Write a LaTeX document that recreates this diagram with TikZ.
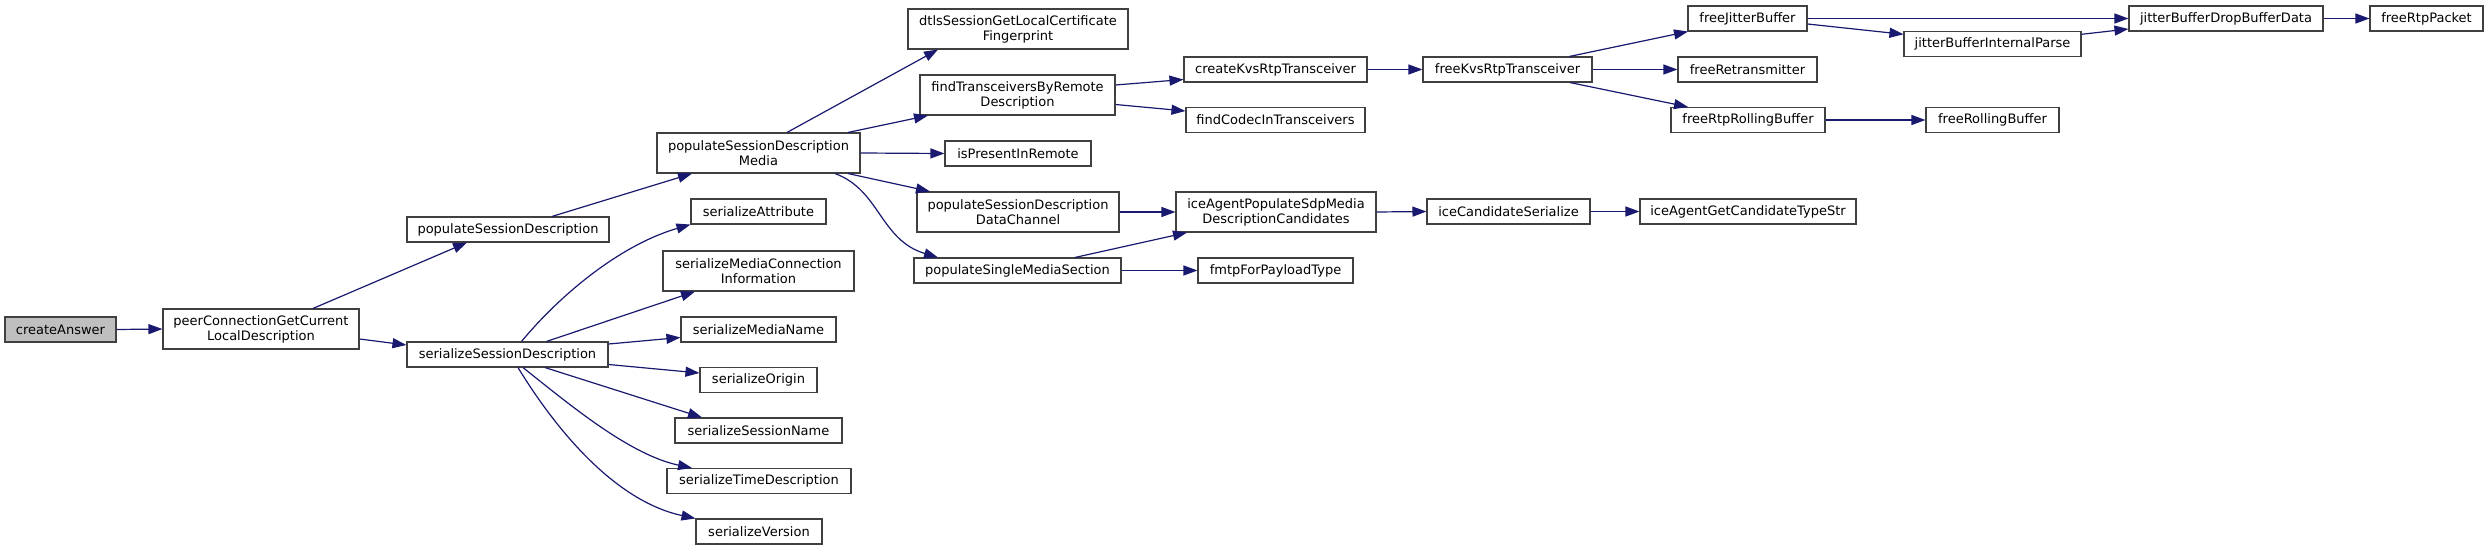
\documentclass[tikz,border=0pt]{standalone}
\usepackage{fontspec}
\setmainfont{DejaVu Sans}
\usetikzlibrary{arrows.meta,calc}
\definecolor{navy}{HTML}{191970}
\definecolor{bordergray}{HTML}{404040}
\definecolor{rootgray}{HTML}{BFBFBF}
\begin{document}
\begin{tikzpicture}[x=1pt,y=-1pt,
  nbox/.style={draw=bordergray, fill=white, line width=1.1pt, inner sep=0pt, align=center,
    minimum height=25pt, font=\fontsize{13}{15}\selectfont},
  tall/.style={minimum height=40pt},
  conn/.style={draw=navy, line width=1.2pt, -{Triangle[length=14pt,width=10pt]}}]
\fill[white] (0,0) rectangle (2488,551);
\useasboundingbox (0,0) rectangle (2488,551);

\node[nbox, fill=rootgray, minimum width=111pt] (ca) at (60.5,329.5) {createAnswer};
\node[nbox, tall, minimum width=196pt] (pe) at (261,329) {peerConnectionGetCurrent\\LocalDescription};
\node[nbox, minimum width=202pt] (psd) at (508,229.5) {populateSessionDescription};
\node[nbox, minimum width=201pt] (ssd) at (507.5,354.5) {serializeSessionDescription};
\node[nbox, tall, minimum width=203pt] (psdm) at (758.5,153) {populateSessionDescription\\Media};
\node[nbox, minimum width=135pt] (sa) at (758.5,211.5) {serializeAttribute};
\node[nbox, tall, minimum width=191pt] (smci) at (758.5,271) {serializeMediaConnection\\Information};
\node[nbox, minimum width=155pt] (smn) at (758.5,329.5) {serializeMediaName};
\node[nbox, minimum width=117pt] (so) at (758.5,380) {serializeOrigin};
\node[nbox, minimum width=167pt] (ssn) at (758.5,430.5) {serializeSessionName};
\node[nbox, minimum width=184pt] (std) at (759,481) {serializeTimeDescription};
\node[nbox, minimum width=126pt] (sv) at (759,531.5) {serializeVersion};
\node[nbox, tall, minimum width=220pt] (dtls) at (1018,29) {dtlsSessionGetLocalCertificate\\Fingerprint};
\node[nbox, tall, minimum width=195pt] (ftr) at (1017.5,95) {findTransceiversByRemote\\Description};
\node[nbox, minimum width=146pt] (ipr) at (1018,153.5) {isPresentInRemote};
\node[nbox, tall, minimum width=202pt] (pdc) at (1018,212) {populateSessionDescription\\DataChannel};
\node[nbox, minimum width=207pt] (psms) at (1017.5,270.5) {populateSingleMediaSection};
\node[nbox, minimum width=183pt] (ckrt) at (1275.5,69.5) {createKvsRtpTransceiver};
\node[nbox, minimum width=179pt] (fcit) at (1275.5,120) {findCodecInTransceivers};
\node[nbox, tall, minimum width=200pt] (iap) at (1276,212) {iceAgentPopulateSdpMedia\\DescriptionCandidates};
\node[nbox, minimum width=155pt] (fmtp) at (1275.5,270.5) {fmtpForPayloadType};
\node[nbox, minimum width=169pt] (fkrt) at (1507.5,69.5) {freeKvsRtpTransceiver};
\node[nbox, minimum width=163pt] (ics) at (1508.5,211.5) {iceCandidateSerialize};
\node[nbox, minimum width=119pt] (fjb) at (1747.5,18.5) {freeJitterBuffer};
\node[nbox, minimum width=139pt] (fr) at (1747.5,69.5) {freeRetransmitter};
\node[nbox, minimum width=154pt] (frrb) at (1748,120) {freeRtpRollingBuffer};
\node[nbox, minimum width=216pt] (igct) at (1748,211.5) {iceAgentGetCandidateTypeStr};
\node[nbox, minimum width=177pt] (jbip) at (1992.5,44) {jitterBufferInternalParse};
\node[nbox, minimum width=133pt] (frb) at (1992.5,120) {freeRollingBuffer};
\node[nbox, minimum width=194pt] (jbd) at (2226,18.5) {jitterBufferDropBufferData};
\node[nbox, minimum width=113pt] (frp) at (2426.5,18.5) {freeRtpPacket};

\draw[conn] (ca.east) -- (pe.west);
\draw[conn] ($(pe.north)+(52,0)$) -- ($(psd.south)+(-41,0)$);
\draw[conn] ($(pe.east)+(0,10)$) -- ($(ssd.west)+(0,-9.5)$);
\draw[conn] ($(psd.north)+(44,0)$) -- ($(psdm.south)+(-66.5,0)$);
\draw[conn] ($(psdm.north)+(28.5,0)$) -- ($(dtls.south)+(-80,0)$);
\draw[conn] ($(psdm.north)+(89.5,0)$) -- ($(ftr.south)+(-89.5,0)$);
\draw[conn] (psdm.east) -- (ipr.west);
\draw[conn] ($(psdm.south)+(89.5,0)$) -- ($(pdc.north)+(-88,0)$);
\draw[conn] ($(psdm.south)+(76.5,0)$) .. controls (880,190) and (880,240) .. ($(psms.north)+(-79.5,0)$);
\draw[conn] ($(ftr.east)+(0,-10)$) -- ($(ckrt.west)+(0,10)$);
\draw[conn] ($(ftr.east)+(0,9.5)$) -- ($(fcit.west)+(0,-9)$);
\draw[conn] (pdc.east) -- (iap.west);
\draw[conn] ($(psms.north)+(57.5,0)$) -- ($(iap.south)+(-89,0)$);
\draw[conn] (psms.east) -- (fmtp.west);
\draw[conn] (ckrt.east) -- (fkrt.west);
\draw[conn] (iap.east) -- (ics.west);
\draw[conn] (ics.east) -- (igct.west);
\draw[conn] ($(fkrt.north)+(62,0)$) -- ($(fjb.south)+(-59.5,0)$);
\draw[conn] (fkrt.east) -- (fr.west);
\draw[conn] ($(fkrt.south)+(62.5,0)$) -- ($(frrb.north)+(-60,0)$);
\draw[conn] (frrb.east) -- (frb.west);
\draw[conn] (fjb.east) -- (jbd.west);
\draw[conn] ($(fjb.east)+(0,5.5)$) -- ($(jbip.west)+(0,-9.7)$);
\draw[conn] ($(jbip.east)+(0,-9.7)$) -- ($(jbd.west)+(0,10.5)$);
\draw[conn] (jbd.east) -- (frp.west);
\draw[conn] ($(ssd.north)+(14,0)$) .. controls (560,295) and (620,245) .. (sa.south west);
\draw[conn] ($(ssd.north)+(39,0)$) -- ($(smci.south)+(-63.5,0)$);
\draw[conn] ($(ssd.east)+(0,-10.5)$) -- ($(smn.west)+(0,8)$);
\draw[conn] ($(ssd.east)+(0,10)$) -- ($(so.west)+(0,-7)$);
\draw[conn] ($(ssd.south)+(37.5,0)$) -- ($(ssn.north)+(-56.5,0)$);
\draw[conn] ($(ssd.south)+(15.5,0)$) .. controls (570,405) and (630,455) .. ($(std.north)+(-67,0)$);
\draw[conn] ($(ssd.south)+(10.5,0)$) .. controls (550,420) and (610,500) .. (sv.north west);
\end{tikzpicture}
\end{document}
